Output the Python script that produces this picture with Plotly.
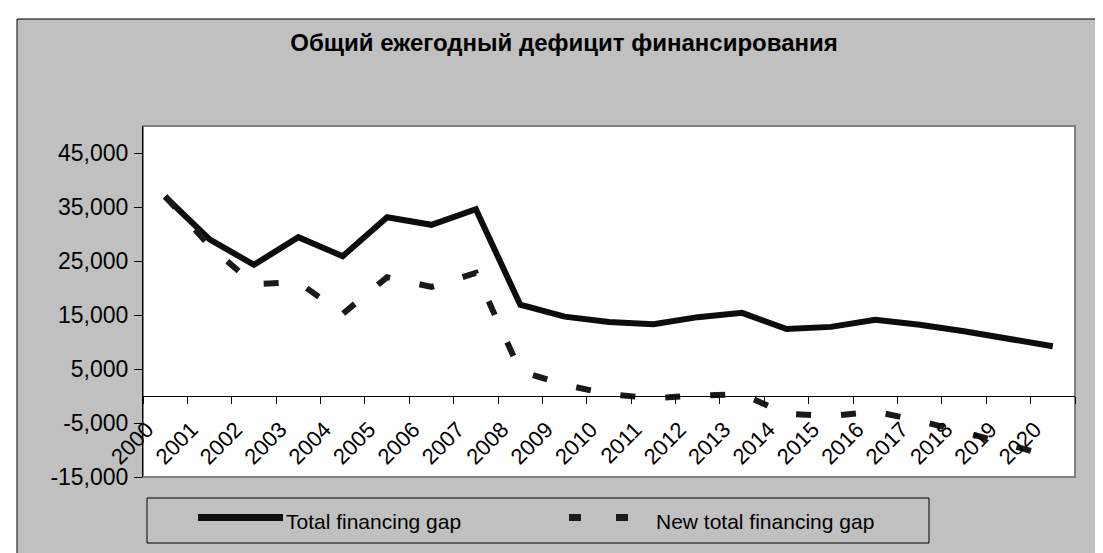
import plotly.graph_objects as go

#years on the category axis
years = ['2000', '2001', '2002', '2003', '2004', '2005', '2006', '2007', '2008', '2009', '2010',
         '2011', '2012', '2013', '2014', '2015', '2016', '2017', '2018', '2019', '2020']
total_gap = [36900, 29000, 24300, 29400, 25900, 33100, 31700, 34600, 16900, 14700, 13700,
             13300, 14600, 15400, 12400, 12800, 14100, 13200, 12000, 10600, 9200]
new_total_gap = [37000, 27800, 20700, 21100, 15200, 22000, 20200, 22800, 4600, 2100, 300,
                 -400, 100, 300, -3300, -3700, -2900, -4600, -6700, -9100, -11300]
y_ticks = [-15000, -5000, 5000, 15000, 25000, 35000, 45000]
y_labels = ['-15,000', '-5,000', '5,000', '15,000', '25,000', '35,000', '45,000']
y_min, y_max = -15000, 50000

W, H = 1103, 553
L, R, T, B = 135, 36, 118, 84
pw, ph = W - L - R, H - T - B

#pixel -> paper coords
def px(x):
    return (x - L) / pw

def py(y):
    return (H - B - y) / ph

fnt = 'Arial, Liberation Sans, sans-serif'
solid_col, dash_col = '#0d0d0d', '#1a1a1a'

fig = go.Figure()
fig.add_trace(go.Scatter(x=years, y=total_gap, mode='lines', name='Total financing gap',
                         line=dict(color=solid_col, width=6)))
fig.add_trace(go.Scatter(x=years, y=new_total_gap, mode='lines', name='New total financing gap',
                         line=dict(color=dash_col, width=6, dash='15px,30px')))

#gray chart area, white plot area, legend box and keys
shapes = [
    dict(type='rect', xref='paper', yref='paper', x0=px(9), x1=1.5, y0=-1, y1=py(11),
         fillcolor='#c0c0c0', line=dict(color='black', width=1), layer='below'),
    dict(type='rect', xref='paper', yref='paper', x0=0, x1=1, y0=0, y1=1,
         fillcolor='white', line=dict(color='#808080', width=2), layer='below'),
    dict(type='rect', xref='paper', yref='paper', x0=px(139), x1=px(921), y0=py(535), y1=py(490),
         fillcolor='#c0c0c0', line=dict(color='black', width=1), layer='below'),
    dict(type='line', xref='paper', yref='paper', x0=px(190), x1=px(275), y0=py(509.5), y1=py(509.5),
         line=dict(color=solid_col, width=7)),
    dict(type='line', xref='paper', yref='paper', x0=px(561), x1=px(620), y0=py(509.5), y1=py(509.5),
         line=dict(color=dash_col, width=7, dash='12px,35px')),
]
annotations = [
    dict(text=fig.data[0].name, xref='paper', yref='paper', x=px(276), y=py(513),
         xanchor='left', yanchor='middle', showarrow=False, font=dict(size=21, color='black')),
    dict(text=fig.data[1].name, xref='paper', yref='paper', x=px(646), y=py(513),
         xanchor='left', yanchor='middle', showarrow=False, font=dict(size=21, color='black')),
]

fig.update_layout(
    width=W, height=H,
    margin=dict(l=L, r=R, t=T, b=B),
    paper_bgcolor='white',
    plot_bgcolor='rgba(0,0,0,0)',
    shapes=shapes,
    annotations=annotations,
    showlegend=False,
    font=dict(family=fnt, color='black'),
    title=dict(text='<b>Общий ежегодный дефицит финансирования</b>', x=px(556), xref='paper',
               xanchor='center', y=1 - 35 / H, yref='container', yanchor='middle',
               font=dict(size=24, family=fnt, color='black')),
    xaxis=dict(type='category', range=[-0.5, len(years) - 0.5], tickson='boundaries',
               ticks='outside', ticklen=7, tickcolor='black', showline=True, linecolor='black',
               linewidth=1, anchor='free', position=(0 - y_min) / (y_max - y_min),
               tickangle=-45, tickfont=dict(size=22), showgrid=False,
               ticklabelstandoff=11, ticklabelshift=-18),
    yaxis=dict(range=[y_min, y_max], tickvals=y_ticks, ticktext=y_labels, ticks='outside',
               ticklen=8, tickcolor='black', showline=True, linecolor='black', linewidth=1,
               showgrid=False, zeroline=False, tickfont=dict(size=23), ticklabelstandoff=1),
)

fig.write_html("out.html")
